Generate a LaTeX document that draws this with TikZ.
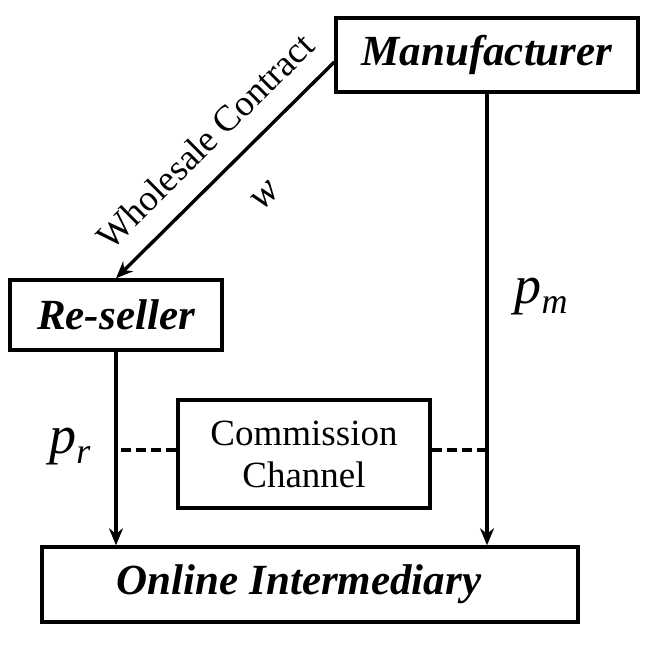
\documentclass[tikz,border=0pt]{standalone}
\usepackage{fontspec}
\setmainfont{Liberation Serif}
\usetikzlibrary{arrows.meta}
\begin{document}
\begin{tikzpicture}[x=1pt,y=-1pt,
  box/.style={draw,line width=3.4pt,inner sep=0pt,minimum width=#1},
  titlefont/.style={font=\fontsize{43}{45}\selectfont\bfseries\itshape},
  arr/.style={line width=3.4pt,-{Stealth[length=17pt,width=14pt]}},
  dashline/.style={line width=4pt,dash pattern=on 10pt off 5pt}]
\useasboundingbox (0,0) rectangle (662,646);
\node[box=302pt,minimum height=74pt,titlefont] (man) at (487,55) {Manufacturer};
\node[box=212pt,minimum height=70pt,titlefont] (re) at (116,315) {Re-seller};
\node[box=536pt,minimum height=75pt,titlefont] (oi) at (310,584.5) {Online Intermediary\hspace*{22pt}};
\node[box=252pt,minimum height=108pt,align=center,font=\fontsize{37}{42}\selectfont] (cc) at (304,454) {Commission\\Channel};
\draw[arr] ([yshift=-7pt]man.west) -- (re.north)
  node[pos=0.48,sloped,above=17pt,font=\fontsize{36.5}{38}\selectfont] (wc) {Wholesale Contract}
  node[pos=0.465,sloped,below=32pt,font=\fontsize{40}{40}\selectfont\itshape] (w) {w};
\draw[arr] (man.south) -- (man.south |- oi.north);
\draw[arr] (re.south) -- (re.south |- oi.north);
\node[font=\fontsize{54}{54}\selectfont\itshape] (pm) at (541,297) {p\raisebox{-10pt}{\fontsize{36}{36}\selectfont m}};
\node[font=\fontsize{54}{54}\selectfont\itshape] (pr) at (70,447) {p\raisebox{-10pt}{\fontsize{36}{36}\selectfont r}};
\coordinate (dl) at ([xshift=5pt]re.south |- cc.west);
\coordinate (dr) at ([xshift=-2pt]man.south |- cc.east);
\draw[dashline] ([yshift=4pt]cc.west) -- ([yshift=4pt]dl);
\draw[dashline] ([yshift=4pt]cc.east) -- ([yshift=4pt]dr);
\end{tikzpicture}
\end{document}
